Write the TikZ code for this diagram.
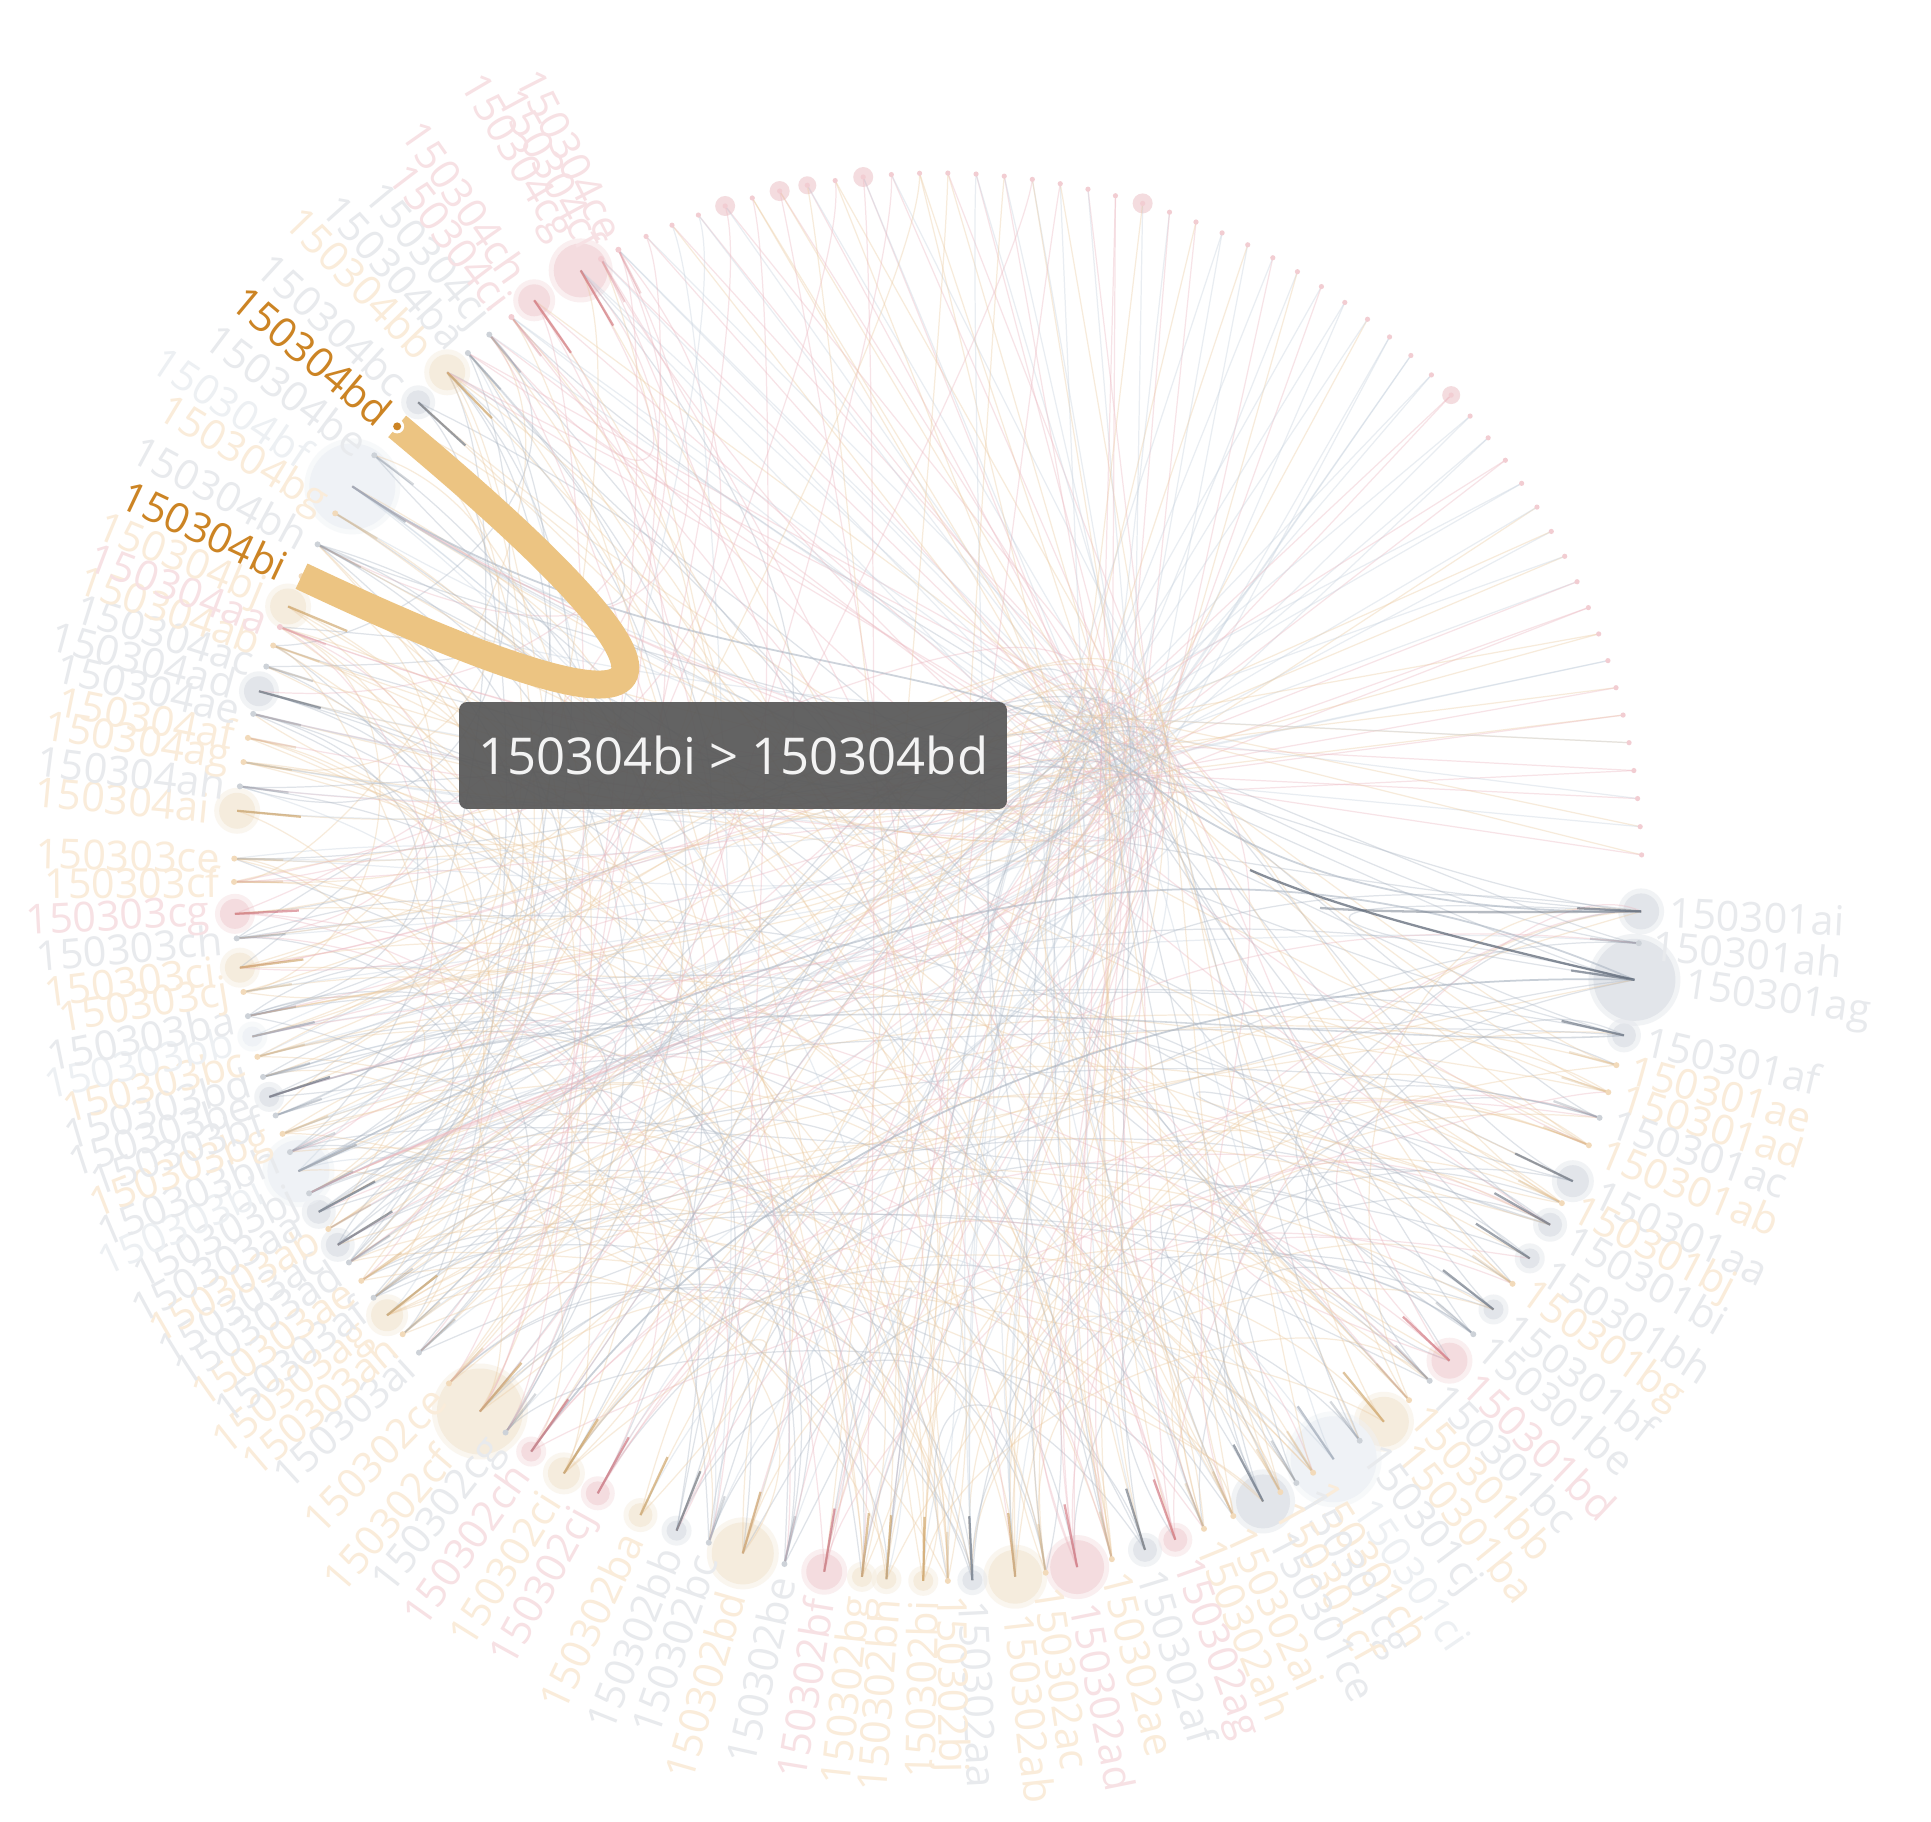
\documentclass[tikz,border=0pt]{standalone}
\usepackage{fontspec}
\setmainfont{Open Sans}
\usetikzlibrary{calc}
% label colours
\definecolor{labG}{RGB}{232,234,237}
\definecolor{labT}{RGB}{250,236,218}
\definecolor{labP}{RGB}{247,225,228}
\definecolor{labL}{RGB}{237,240,243}
\definecolor{labO}{RGB}{204,132,36}
% halo colours
\definecolor{haloG}{RGB}{226,229,234}
\definecolor{haloT}{RGB}{245,236,221}
\definecolor{haloP}{RGB}{244,220,223}
\definecolor{haloL}{RGB}{239,242,246}
% stub colours
\definecolor{stubG}{RGB}{95,105,120}
\definecolor{stubT}{RGB}{200,155,90}
\definecolor{stubP}{RGB}{205,105,115}
\definecolor{stubL}{RGB}{150,160,175}
% dot colours
\definecolor{dotG}{RGB}{205,210,216}
\definecolor{dotT}{RGB}{242,218,186}
\definecolor{dotP}{RGB}{242,205,210}
\definecolor{dotL}{RGB}{218,225,232}
% edge colours
\definecolor{edgeG}{RGB}{172,182,195}
\definecolor{edgeT}{RGB}{236,203,162}
\definecolor{edgeP}{RGB}{236,184,192}
\definecolor{edgeL}{RGB}{198,210,222}
\definecolor{bandO}{RGB}{236,196,130}
\definecolor{tipF}{RGB}{88,88,88}

\tikzset{
  lab/.style={font=\fontsize{23.5}{24}\selectfont, inner sep=0pt},
  hilab/.style={font=\fontsize{23.5}{24}\selectfont, inner sep=0pt, text=labO},
  edge/.style={line width=0.7pt, opacity=0.38},
  strongedge/.style={line width=1.3pt, draw=stubG, opacity=0.75},
  stubline/.style={line width=1.3pt, opacity=0.6},
  band/.style={line width=15.9pt, draw=bandO, line cap=butt},
  tipbox/.style={fill=tipF, fill opacity=0.93, rounded corners=0.16cm,
     minimum width=10.96cm, minimum height=2.14cm, inner sep=0pt,
     text=white, font=\fontsize{28.9}{30}\selectfont}
}

% edge from node #1 to node #2 bundled through the hub; #3 = straightness at the start, #4 = colour
\newcommand{\hubline}[4]{%
  \pgfmathsetmacro\jx{55*rand}%
  \pgfmathsetmacro\jy{40*rand}%
  \coordinate (hj) at ($(H)+(\jx,\jy)$);%
  \draw[edge, draw=#4] (n-#1) .. controls ($(C)!#3!(n-#1)$) and ($(hj)!0.3!(n-#1)$) .. (hj)
     .. controls ($(hj)!-0.3!(n-#1)$) and ($(C)!0.6!(n-#2)$) .. (n-#2);%
}

\def\nodelist{
0/-2.8/150301ai/G/18,
1/-5.4/150301ah/G/0,
2/-8.4/150301ag/G/41,
3/-13.0/150301af/G/12,
4/-15.5/150301ae/T/0,
5/-17.8/150301ad/T/0,
6/-20.0/150301ac/G/0,
7/-22.4/150301ab/T/0,
8/-25.6/150301aa/G/16,
9/-27.6/150301bj/T/0,
10/-29.6/150301bi/G/12,
11/-32.8/150301bh/G/10,
12/-35.3/150301bg/T/0,
13/-37.9/150301bf/G/10,
14/-40.5/150301be/G/0,
15/-43.4/150301bd/P/18,
16/-45.7/150301bc/G/0,
17/-48.0/150301bb/T/0,
18/-50.7/150301ba/T/25,
19/-53.2/150301cj/G/0,
20/-55.8/150301ci/L/43,
21/-57.8/150301ch/T/0,
22/-59.4/150301cg/G/0,
23/-60.9/150301cf/T/0,
24/-62.5/150301ce/G/27,
25/-65.2/150302ai/T/0,
26/-67.8/150302ah/T/0,
27/-70.3/150302ag/P/12,
28/-72.9/150302af/G/12,
29/-75.7/150302ae/T/0,
30/-78.6/150302ad/P/27,
31/-81.2/150302ac/T/0,
32/-83.7/150302ab/T/27,
33/-87.2/150302aa/G/10,
34/-89.2/150302bj/T/0,
35/-91.2/150302bi/T/10,
36/-94.2/150302bh/T/10,
37/-96.2/150302bg/T/10,
38/-99.3/150302bf/P/18,
39/-102.6/150302be/G/0,
40/-106.1/150302bd/T/31,
41/-109.0/150302bc/G/0,
42/-111.8/150302bb/G/10,
43/-115.0/150302ba/T/12,
44/-118.9/150302cj/P/12,
45/-122.1/150302ci/T/16,
46/-125.3/150302ch/P/10,
47/-127.9/150302cg/G/0,
48/-130.6/150302cf/T/43,
49/-134.0/150302ce/T/0,
50/-137.5/150303ai/G/0,
51/-139.5/150303ah/T/0,
52/-141.5/150303ag/T/16,
53/-143.3/150303af/G/0,
54/-145.0/150303ae/T/0,
55/-146.8/150303ad/G/0,
56/-148.5/150303ac/G/12,
57/-150.0/150303ab/T/0,
58/-151.6/150303aa/G/12,
59/-153.3/150303bj/G/0,
60/-155.3/150303bi/L/31,
61/-157.0/150303bh/G/0,
62/-158.6/150303bg/T/0,
63/-160.2/150303bf/G/0,
64/-161.8/150303be/G/10,
65/-163.5/150303bd/G/0,
66/-165.2/150303bc/T/0,
67/-166.9/150303bb/L/10,
68/-168.6/150303ba/G/0,
69/-170.6/150303cj/T/0,
70/-172.6/150303ci/T/15,
71/-175.0/150303ch/G/0,
72/-177.0/150303cg/P/15,
73/-179.6/150303cf/T/0,
74/-181.5/150303ce/T/0,
75/174.6/150304ai/T/18,
76/172.6/150304ah/G/0,
77/170.6/150304ag/T/0,
78/168.6/150304af/T/0,
79/166.6/150304ae/G/0,
80/164.7/150304ad/G/15,
81/162.6/150304ac/G/0,
82/160.8/150304ab/T/0,
83/159.2/150304aa/P/0,
84/157.4/150304bj/T/18,
85/154.7/150304bi/T/0,
86/151.8/150304bh/G/0,
87/148.9/150304bg/T/0,
88/146.3/150304bf/L/43,
89/143.2/150304be/G/0,
90/140.2/150304bd/T/0,
91/137.6/150304bc/G/12,
92/134.2/150304bb/T/18,
93/131.9/150304ba/G/0,
94/129.6/150304cj/G/0,
95/127.3/150304ci/P/0,
96/125.0/150304ch/P/16,
97/120.5/150304cg/P/27,
98/118.6/150304cf/P/0,
99/117.0/150304ce/P/0}

\begin{document}
\begin{tikzpicture}[x=0.02cm,y=0.02cm]
\fill[white] (0,0) rectangle (1931,-1822);
\useasboundingbox (0,0) rectangle (1931,-1822);
\coordinate (C) at (938,-877);
\coordinate (H) at (1112,-755);

% node positions and halos
\foreach \k/\ang/\lab/\col/\hal in \nodelist {
  \coordinate (n-\k) at ($(C)+(\ang:704)$);
  \expandafter\xdef\csname ncol\k\endcsname{\col}
  \ifnum\hal>0
    \fill[halo\col, opacity=0.45] (n-\k) circle (\hal+5);
    \fill[halo\col] (n-\k) circle (\hal);
  \fi
}
\foreach \k in {100,...,149} {
  \pgfmathsetmacro\ang{114.5-2.3*(\k-100)}
  \coordinate (n-\k) at ($(C)+(\ang:704)$);
}
\foreach \k/\r in {103/10,105/10,106/9,108/10,118/10,131/9} {
  \fill[haloP] (n-\k) circle (\r);
}

\pgfmathsetseed{4242}
% chords between labelled nodes
\foreach \a in {0,...,99} {
  \pgfmathrandominteger{\b}{0}{99}
  \pgfmathsetmacro\ka{0.35+0.5*rnd}
  \pgfmathsetmacro\kb{0.35+0.5*rnd}
  \edef\ecol{edge\csname ncol\a\endcsname}
  \draw[edge, draw=\ecol] (n-\a) .. controls ($(C)!\ka!(n-\a)$) and ($(C)!\kb!(n-\b)$) .. (n-\b);
}
\foreach \a in {0,...,99} {
  \pgfmathrandominteger{\b}{0}{99}
  \pgfmathsetmacro\px{938+280*rand}
  \pgfmathsetmacro\py{-877+280*rand}
  \pgfmathsetmacro\ka{0.3+0.5*rnd}
  \pgfmathsetmacro\kb{0.3+0.5*rnd}
  \edef\ecol{edge\csname ncol\a\endcsname}
  \draw[edge, draw=\ecol] (n-\a) .. controls ($(\px,\py)!\ka!(n-\a)$) and ($(\px,\py)!\kb!(n-\b)$) .. (n-\b);
}
\foreach \a in {25,...,74} {
  \pgfmathrandominteger{\b}{0}{99}
  \pgfmathsetmacro\px{938+200*rand}
  \pgfmathsetmacro\py{-877+200*rand}
  \pgfmathsetmacro\ka{0.2+0.4*rnd}
  \pgfmathsetmacro\kb{0.2+0.4*rnd}
  \edef\ecol{edge\csname ncol\a\endcsname}
  \draw[edge, draw=\ecol] (n-\a) .. controls ($(\px,\py)!\ka!(n-\a)$) and ($(\px,\py)!\kb!(n-\b)$) .. (n-\b);
}
% top fan: straight rays into the hub
\foreach \a in {92,...,149} {
  \foreach \rep in {1,2} {
    \pgfmathrandominteger{\b}{25}{88}
    \pgfmathrandominteger{\cc}{1}{5}
    \ifcase\cc\or\def\ecol{edgeP}\or\def\ecol{edgeT}\or\def\ecol{edgeL}\or\def\ecol{edgeP}\or\def\ecol{edgeL}\fi
    \hubline{\a}{\b}{1}{\ecol}
  }
}
% top-left nodes: long near-straight chords downwards
\foreach \a in {92,...,115} {
  \pgfmathrandominteger{\b}{25}{60}
  \pgfmathrandominteger{\cc}{1}{3}
  \ifcase\cc\or\def\ecol{edgeP}\or\def\ecol{edgeT}\or\def\ecol{edgeL}\fi
  \draw[edge, draw=\ecol] (n-\a) .. controls ($(C)!0.8!(n-\a)$) and ($(C)!0.8!(n-\b)$) .. (n-\b);
}
% right-hand and upper-left nodes bundled through the hub
\foreach \a in {0,...,30,76,...,84,86,...,89} {
  \pgfmathrandominteger{\b}{25}{74}
  \pgfmathsetmacro\ka{0.75+0.2*rnd}
  \edef\ecol{edge\csname ncol\a\endcsname}
  \hubline{\a}{\b}{\ka}{\ecol}
}

% grey edges from the right-hand nodes
\draw[edge, draw=edgeG, opacity=0.6, line width=1pt] (n-2) .. controls ($(H)!0.3!(n-2)$) and ($(H)!0.25!(n-60)$) .. (n-60);
\draw[strongedge] (n-2) .. controls (1440,-935) and (1330,-905) .. (1250,-870);
\draw[edge, draw=edgeG, opacity=0.6, line width=1pt] (n-0) .. controls ($(n-0)+(-330,-5)$) and ($(H)+(80,-60)$) .. (H)
   .. controls ($(H)+(-150,110)$) and ($(C)!0.5!(n-88)$) .. (n-88);
\draw[strongedge, opacity=0.45] (n-0) .. controls (1450,-913) and (1380,-912) .. (1320,-908);
\draw[edge, draw=edgeG, opacity=0.65, line width=1pt] (n-2) .. controls ($(n-2)+(-380,10)$) and ($(C)!0.35!(n-46)$) .. (n-46);
\draw[edge, draw=edgeG, opacity=0.5, line width=0.9pt] (n-3) .. controls ($(n-3)+(-300,-20)$) and ($(C)!0.3!(n-64)$) .. (n-64);

% radial stubs and dots
\foreach \k/\ang/\lab/\col/\hal in \nodelist {
  \ifnum\hal>0
    \draw[stubline, draw=stub\col] (n-\k) -- ($(C)+(\ang:640)$);
  \else
    \draw[stubline, draw=stub\col, opacity=0.25] (n-\k) -- ($(C)+(\ang:655)$);
    \fill[dot\col] (n-\k) circle (3);
  \fi
}
\foreach \k in {100,...,149} {
  \fill[dotP] (n-\k) circle (2.6);
}

% labels
\foreach \k/\ang/\lab/\col/\hal in \nodelist {
  \pgfmathsetmacro\rl{704+max(\hal,4)+10}
  \pgfmathtruncatemacro\isright{cos(\ang)>0 ? 1 : 0}
  \pgfmathtruncatemacro\ishi{(\k==85 || \k==90) ? 1 : 0}
  \ifnum\ishi=0
    \ifnum\isright=1
      \node[lab, text=lab\col, anchor=west, rotate=\ang] (l-\k) at ($(C)+(\ang:\rl)$) {\lab};
    \else
      \pgfmathsetmacro\rot{\ang+180}
      \node[lab, text=lab\col, anchor=east, rotate=\rot] (l-\k) at ($(C)+(\ang:\rl)$) {\lab};
    \fi
  \fi
}

% highlighted link
\draw[band] (n-90) .. controls ($(n-90)!0.62!(C)$) and ($(n-85)!0.62!(C)$) .. (n-85);
\fill[white] (n-90) circle (7);
\fill[labO] (n-90) circle (4);
\node[hilab, anchor=east, rotate=320.2] (l-90) at ($(C)+(140.2:718)$) {150304bd};
\node[hilab, anchor=east, rotate=334.7] (l-85) at ($(C)+(154.7:722)$) {150304bi};

% tooltip
\node[tipbox] (tip) at (733,-755.5) {150304bi > 150304bd};
\end{tikzpicture}
\end{document}
